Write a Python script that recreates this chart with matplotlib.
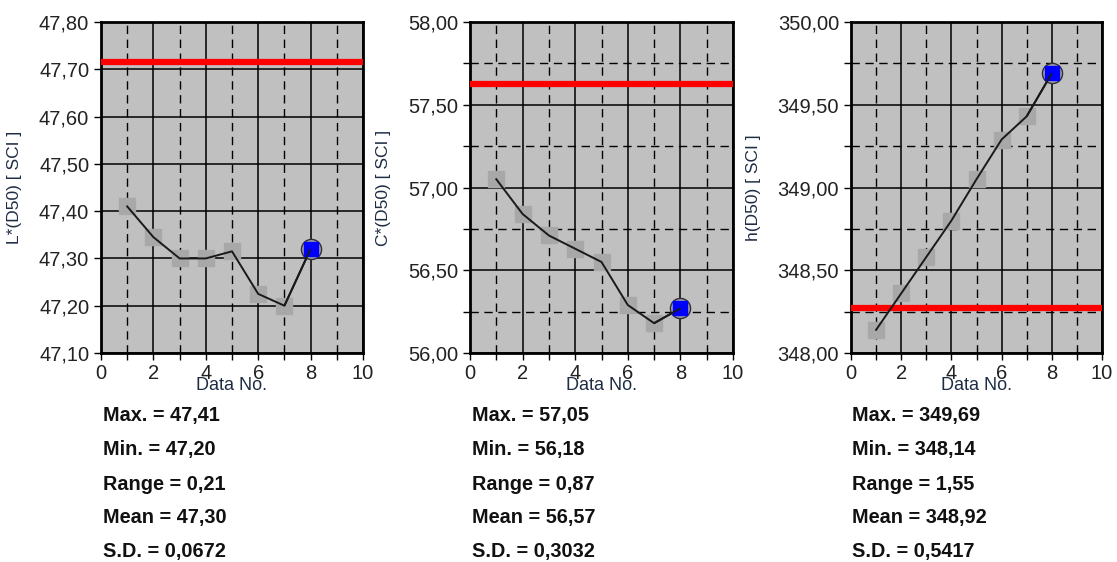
import matplotlib
matplotlib.use("Agg")
import matplotlib.pyplot as plt
from matplotlib.ticker import MultipleLocator, FuncFormatter

data_no = [1, 2, 3, 4, 5, 6, 7, 8]
L_values = [47.41, 47.345, 47.30, 47.30, 47.315, 47.225, 47.20, 47.32]
C_values = [57.05, 56.84, 56.71, 56.63, 56.55, 56.29, 56.18, 56.27]
h_values = [348.14, 348.36, 348.58, 348.80, 349.05, 349.29, 349.43, 349.69]
ref_values = [47.715, 57.625, 348.27]
ylabels = ["L*(D50) [ SCI ]", "C*(D50) [ SCI ]", "h(D50) [ SCI ]"]
ylims = [(47.10, 47.80), (56.00, 58.00), (348.00, 350.00)]
y_major = [0.10, 0.50, 0.50]
y_minor = [None, 0.25, 0.25]
stats = [
    ["Max. = 47,41", "Min. = 47,20", "Range = 0,21", "Mean = 47,30", "S.D. = 0,0672"],
    ["Max. = 57,05", "Min. = 56,18", "Range = 0,87", "Mean = 56,57", "S.D. = 0,3032"],
    ["Max. = 349,69", "Min. = 348,14", "Range = 1,55", "Mean = 348,92", "S.D. = 0,5417"],
]
series = [L_values, C_values, h_values]

W, H = 1117, 562
fig = plt.figure(figsize=(W / 100, H / 100), dpi=100)
fig.patch.set_facecolor("white")

# axes boxes in pixels: left, right, top, bottom
boxes = [(101, 363, 22, 353), (470, 733, 22, 353), (851, 1102, 22, 353)]
label_x = [22, 391, 761]
text_x = [103, 472, 852]
stat_y = [416, 450, 485, 518, 551]

comma_fmt = FuncFormatter(lambda v, p: f"{v:.2f}".replace(".", ","))

for i in range(3):
    l, r, t, b = boxes[i]
    ax = fig.add_axes([l / W, 1 - b / H, (r - l) / W, (b - t) / H])
    ax.set_facecolor("#c0c0c0")
    ax.set_xlim(0, 10)
    ax.set_ylim(*ylims[i])
    ax.xaxis.set_major_locator(MultipleLocator(2))
    ax.xaxis.set_minor_locator(MultipleLocator(1))
    ax.yaxis.set_major_locator(MultipleLocator(y_major[i]))
    if y_minor[i]:
        ax.yaxis.set_minor_locator(MultipleLocator(y_minor[i]))
    ax.yaxis.set_major_formatter(comma_fmt)
    ax.grid(which="major", color="black", linestyle="-", linewidth=1.1)
    ax.grid(which="minor", color="black", linestyle=(0, (6, 4)), linewidth=1.0)
    ax.set_axisbelow(True)
    for s in ax.spines.values():
        s.set_linewidth(2.0)
        s.set_color("black")
    ax.tick_params(which="both", direction="out", length=5, width=1.0, colors="black",
                   labelsize=14.5, labelcolor="#222222")
    ax.tick_params(axis="x", pad=3)
    for lab in ax.get_xticklabels() + ax.get_yticklabels():
        lab.set_family("Liberation Sans")

    ax.axhline(ref_values[i], color="#ff0000", linewidth=4.5, zorder=3)
    ax.plot(data_no[:-1], series[i][:-1], linestyle="none", marker="s", markersize=11,
            color="#a8a8a8", zorder=4)
    ax.plot(data_no, series[i], color="#1a1a1a", linewidth=1.4, zorder=5)
    ax.plot(data_no[-1], series[i][-1], marker="o", markersize=14.5, markerfacecolor="#a0a0b0",
            markeredgecolor="#303030", markeredgewidth=1.0, linestyle="none", zorder=6)
    ax.plot(data_no[-1], series[i][-1], marker="s", markersize=10.5, color="#0000ff",
            linestyle="none", zorder=7)
    ax.plot(data_no[-2:], series[i][-2:], color="#1a1a1a", linewidth=1.4, zorder=8,
            solid_capstyle="butt")

    ax.set_ylabel(ylabels[i], fontsize=12.5, color="#1f2d44", family="Liberation Sans")
    ax.yaxis.set_label_coords(-(l - label_x[i]) / (r - l), 0.5)
    fig.text((l + r) / 2 / W, 1 - 385 / H, "Data No.", ha="center", va="center",
             fontsize=13, color="#1f2d44", family="Liberation Sans")

    for j, s in enumerate(stats[i]):
        fig.text(text_x[i] / W, 1 - stat_y[j] / H, s, ha="left", va="center",
                 fontsize=14.3, fontweight="bold", color="#111111",
                 family="Liberation Sans")

fig.savefig("out.png", dpi=100)
